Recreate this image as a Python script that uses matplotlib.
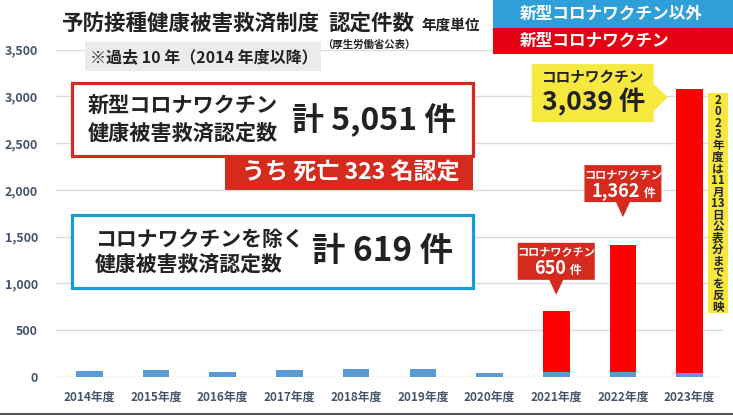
import matplotlib
matplotlib.use("Agg")
import matplotlib.pyplot as plt
from matplotlib.patches import Rectangle, Polygon
from matplotlib.lines import Line2D

plt.rcParams['font.family'] = ['Noto Sans CJK JP', 'DejaVu Sans']

years = ['2014年度', '2015年度', '2016年度', '2017年度', '2018年度',
         '2019年度', '2020年度', '2021年度', '2022年度', '2023年度']
other = [66, 75, 54, 74, 80, 85, 43, 55, 47, 40]        # 新型コロナワクチン以外
covid = [0, 0, 0, 0, 0, 0, 0, 650, 1362, 3039]          # 新型コロナワクチン
yticks = [0, 500, 1000, 1500, 2000, 2500, 3000, 3500]

W, H = 733, 415
BLUE = '#5b9bd5'
RED = '#ff0000'
DARK_RED = '#d52b1e'
YELLOW = '#f7e840'
TXT = '#222222'

fig = plt.figure(figsize=(W / 100, H / 100), dpi=100)
ax = fig.add_axes([56 / W, 1 - 376.7 / H, 667 / W, (376.7 - 49.8) / H])

x = range(len(years))
ax.bar(x, other, width=0.4, color=BLUE)
ax.bar(x, covid, width=0.4, bottom=other, color=RED)

ax.set_xlim(-0.5, len(years) - 0.5)
ax.set_ylim(0, 3500)
ax.set_yticks(yticks)
ax.set_yticklabels([f'{v:,}' for v in yticks])
ax.set_xticks(list(x))
ax.set_xticklabels(years)
for s in ax.spines.values():
    s.set_visible(False)
ax.yaxis.grid(True, color='#dcdcdc', lw=1)
ax.set_axisbelow(True)
ax.tick_params(axis='y', length=0, pad=13, labelsize=9, labelcolor='#44546a')
ax.tick_params(axis='x', length=0, pad=10, labelsize=8.5, labelcolor='#44546a')
for lab in ax.get_xticklabels() + ax.get_yticklabels():
    lab.set_fontweight('bold')


# helpers in image pixels (origin top-left)
def fx(px):
    return px / W


def fy(py):
    return 1 - py / H


def rect(x0, y0, x1, y1, fc, ec='none', lw=0):
    fig.patches.append(Rectangle((fx(x0), fy(y1)), (x1 - x0) / W, (y1 - y0) / H,
                                 transform=fig.transFigure, facecolor=fc,
                                 edgecolor=ec, linewidth=lw))


def poly(pts, fc):
    fig.patches.append(Polygon([(fx(a), fy(b)) for a, b in pts], closed=True,
                               transform=fig.transFigure, facecolor=fc, edgecolor='none'))


def txt(px, py, s, size, color=TXT, ha='left', weight='bold', **kw):
    fig.text(fx(px), fy(py), s, fontsize=size, color=color, ha=ha, va='center',
             fontweight=weight, **kw)


def bar_top(i):
    X, Y = ax.transData.transform((i, other[i] + covid[i]))
    return X, H - Y


# title
txt(62, 23, '予防接種健康被害救済制度', 15.5)
txt(328, 23, '認定件数', 15.5)
txt(421, 25, '年度単位', 10.5)
txt(322, 45, '（厚生労働省公表）', 7.5)
rect(85, 42, 321, 71, '#ebebeb')
txt(90, 57, '※過去 10 年（2014 年度以降）', 11.5)

# legend
rect(493, 0, 733, 28, '#2e9fd9')
rect(493, 28, 733, 54, '#e50012')
txt(520, 14, '新型コロナワクチン以外', 12, color='white')
txt(520, 41, '新型コロナワクチン', 12, color='white')

# total boxes
rect(72, 83, 473, 156, 'white', ec=DARK_RED, lw=2.3)
txt(88, 106, '新型コロナワクチン', 15.2)
txt(88, 133, '健康被害救済認定数', 15.2)
txt(292, 120, f'計 {sum(covid):,} 件', 23)
rect(225, 156, 473, 190, DARK_RED)
txt(351, 173, 'うち 死亡 323 名認定', 16.6, color='white', ha='center')

rect(72, 215, 473, 288, 'white', ec='#1a9ad6', lw=2.3)
txt(95, 239, 'コロナワクチンを除く', 15)
txt(95, 265, '健康被害救済認定数', 15)
txt(312, 252, f'計 {sum(other):,} 件', 24)

# red callouts above 2021, 2022
for i, gap, num_dx in [(7, 16, 10), (8, 28, 17)]:
    bx, by = bar_top(i)
    tip = by - gap
    b1 = tip - 15
    b0 = b1 - 37
    poly([(bx - 38.5, b0), (bx + 38.5, b0), (bx + 38.5, b1), (bx + 7, b1),
          (bx, tip), (bx - 7, b1), (bx - 38.5, b1)], DARK_RED)
    txt(bx, b0 + 9, 'コロナワクチン', 8, color='white', ha='center')
    txt(bx + num_dx, b0 + 26, f'{covid[i]:,}', 13, color='white', ha='right')
    txt(bx + num_dx + 4, b0 + 28, '件', 8.5, color='white')

# yellow callout for 2023
bx, by = bar_top(9)
lx = bx - 13
poly([(lx - 145, by - 25), (lx - 23, by - 25), (lx - 23, by - 5), (lx - 9, by + 8),
      (lx - 23, by + 22), (lx - 23, by + 33), (lx - 145, by + 33)], YELLOW)
txt(lx - 135, by - 12, 'コロナワクチン', 10.5)
txt(lx - 135, by + 13, f'{covid[9]:,} 件', 19)

# vertical note
rect(708, 93, 728, 313, YELLOW)
note = ['2', '0', '2', '3', '年', '度', 'は', '11', '月', '13', '日',
        '公', '表', '分', 'ま', 'で', 'を', '反', '映']
for k, ch in enumerate(note):
    txt(718, 100 + k * 11.5, ch, 8.3, ha='center')

fig.add_artist(Line2D([0, 1], [fy(414), fy(414)], transform=fig.transFigure,
                      color='#555555', lw=1.5))

fig.savefig('out.png', dpi=100)
